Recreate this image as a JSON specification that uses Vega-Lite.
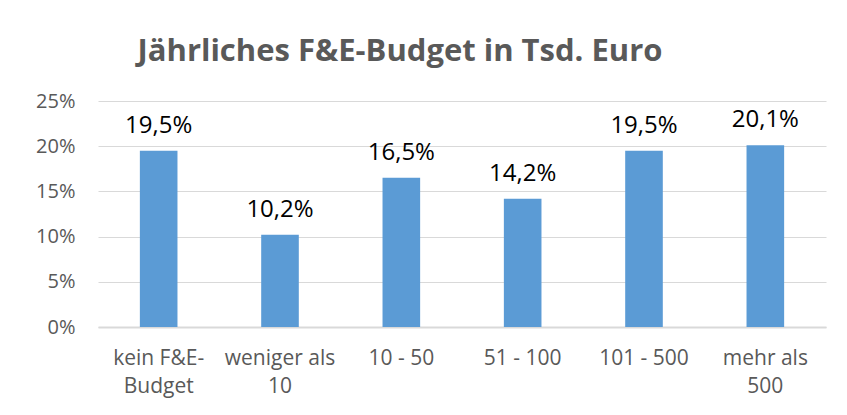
{
  "$schema": "https://vega.github.io/schema/vega-lite/v6.json",
  "width": 728,
  "height": 226,
  "autosize": {"type": "none"},
  "padding": {"left": 98, "top": 101, "right": 21, "bottom": 88},
  "background": "white",
  "title": {
    "text": "Jährliches F&E-Budget in Tsd. Euro",
    "font": "Open Sans",
    "fontSize": 31,
    "fontWeight": "bold",
    "color": "#595959",
    "anchor": "middle",
    "dx": -62,
    "baseline": "alphabetic",
    "offset": -1
  },
  "data": {
    "values": [
      {"kategorie": "kein F&E-Budget", "anteil": 0.195},
      {"kategorie": "weniger als 10", "anteil": 0.102},
      {"kategorie": "10 - 50", "anteil": 0.165},
      {"kategorie": "51 - 100", "anteil": 0.142},
      {"kategorie": "101 - 500", "anteil": 0.195},
      {"kategorie": "mehr als 500", "anteil": 0.201}
    ]
  },
  "encoding": {
    "x": {
      "field": "kategorie",
      "type": "nominal",
      "sort": null,
      "scale": {"paddingInner": 0.69, "paddingOuter": 0.345},
      "axis": {
        "title": null,
        "labelAngle": 0,
        "labelFont": "Open Sans",
        "labelFontSize": 21,
        "labelColor": "#595959",
        "labelPadding": 20,
        "labelLineHeight": 28,
        "labelExpr": "datum.label == 'kein F&E-Budget' ? ['kein F&E-', 'Budget'] : datum.label == 'weniger als 10' ? ['weniger als', '10'] : datum.label == 'mehr als 500' ? ['mehr als', '500'] : datum.label",
        "ticks": false,
        "domainColor": "#d9d9d9",
        "domainWidth": 2,
        "grid": false
      }
    },
    "y": {
      "field": "anteil",
      "type": "quantitative",
      "scale": {"domain": [0, 0.25], "nice": false},
      "axis": {
        "title": null,
        "values": [0, 0.05, 0.1, 0.15, 0.2, 0.25],
        "format": ".0%",
        "labelFont": "Open Sans",
        "labelFontSize": 20,
        "labelColor": "#595959",
        "labelPadding": 23,
        "ticks": false,
        "domain": false,
        "grid": true,
        "gridColor": "#d9d9d9",
        "gridWidth": 1
      }
    }
  },
  "layer": [
    {"mark": {"type": "bar", "color": "#5b9bd5"}},
    {
      "mark": {
        "type": "text",
        "baseline": "alphabetic",
        "dy": -18,
        "font": "Open Sans",
        "fontSize": 24,
        "color": "#000000"
      },
      "encoding": {
        "text": {"field": "anteil", "type": "quantitative", "format": ".1%"}
      }
    }
  ],
  "config": {
    "view": {"stroke": null},
    "locale": {
      "number": {
        "decimal": ",",
        "thousands": ".",
        "grouping": [3],
        "currency": ["", " €"],
        "percent": "%"
      }
    }
  }
}
